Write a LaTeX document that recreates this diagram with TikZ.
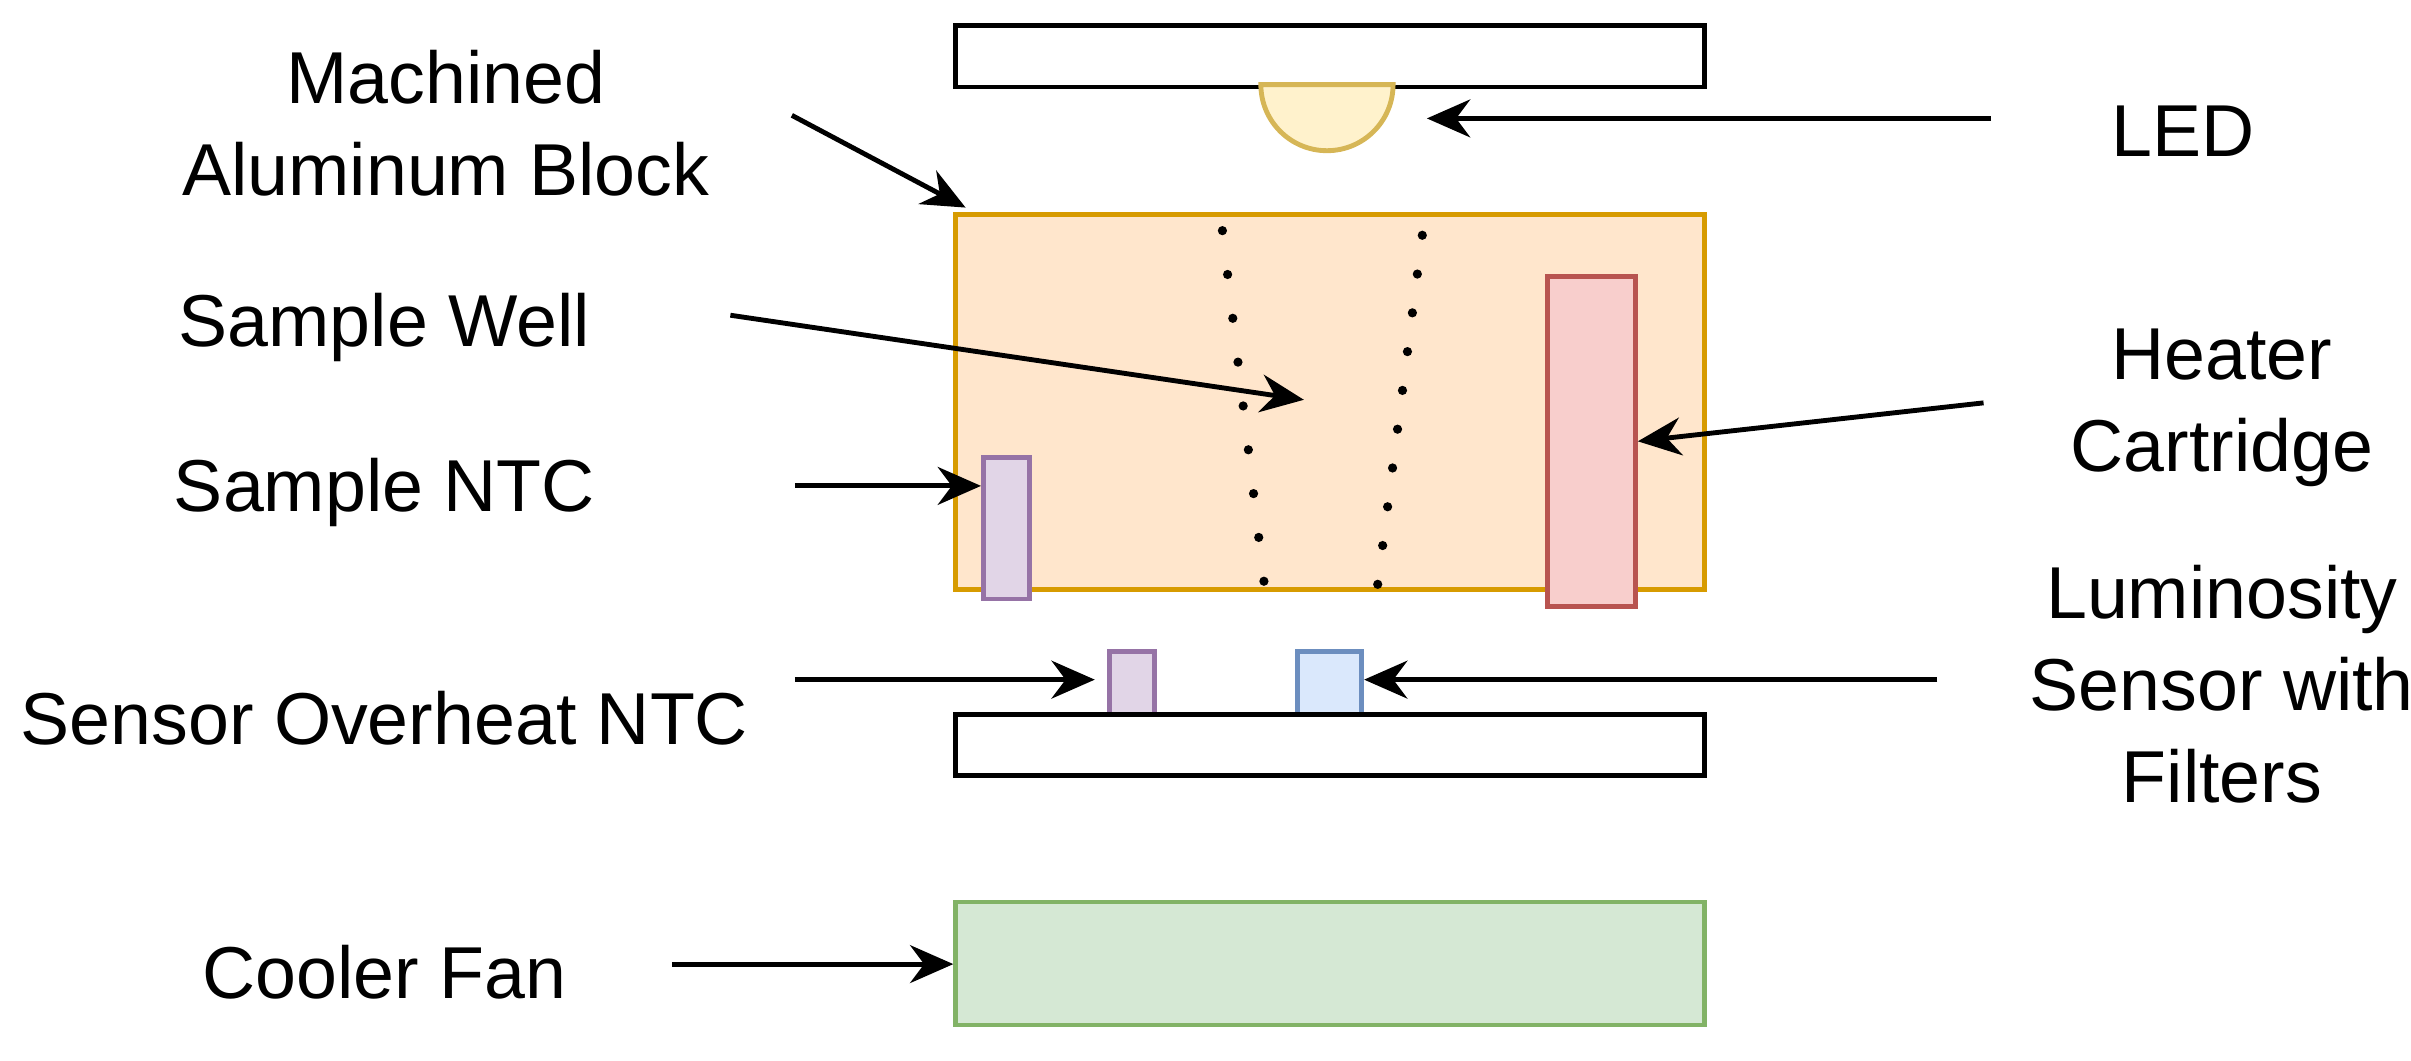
\documentclass[tikz,border=0pt]{standalone}
\usepackage{fontspec}
\setmainfont{Liberation Sans}
\usetikzlibrary{arrows.meta}
\definecolor{ledf}{HTML}{FFF2CC}\definecolor{leds}{HTML}{D6B656}
\definecolor{blkf}{HTML}{FFE6CC}\definecolor{blks}{HTML}{D79B00}
\definecolor{heaf}{HTML}{F8CECC}\definecolor{heas}{HTML}{B85450}
\definecolor{ntcf}{HTML}{E1D5E7}\definecolor{ntcs}{HTML}{9673A6}
\definecolor{lumf}{HTML}{DAE8FC}\definecolor{lums}{HTML}{6C8EBF}
\definecolor{fanf}{HTML}{D5E8D4}\definecolor{fans}{HTML}{82B366}
\begin{document}
\begin{tikzpicture}[x=0.01cm,y=-0.01cm,line width=0.9pt,
  lab/.style={font=\fontsize{13.6}{17}\selectfont,align=center,inner sep=0pt},
  arr/.style={-{Stealth[length=8pt,width=7pt]},line width=0.9pt},
  box/.style={draw,inner sep=0,anchor=north west}]
\useasboundingbox (0,0) rectangle (1568,690);
\node[box,minimum width=487*0.01cm,minimum height=40*0.01cm] (top) at (620,15) {};
\fill[ledf,draw=leds] (820,55) arc[start angle=180,end angle=0,radius=43] -- cycle;
\coordinate (led) at (928,77);
\node[box,draw=blks,fill=blkf,minimum width=487*0.01cm,minimum height=244*0.01cm] (blk) at (620,138) {};
\foreach \i in {0,...,8}{\fill (795+\i*27/8,150+\i*228/8) circle (3);}
\foreach \i in {0,...,9}{\fill (925-\i*29/9,153+\i*227/9) circle (3);}
\node[box,draw=heas,fill=heaf,minimum width=57*0.01cm,minimum height=215*0.01cm] (hea) at (1005,178) {};
\node[box,draw=ntcs,fill=ntcf,minimum width=30*0.01cm,minimum height=92*0.01cm] (sntc) at (638,296) {};
\node[box,draw=ntcs,fill=ntcf,minimum width=29*0.01cm,minimum height=41*0.01cm] (ontc) at (720,422) {};
\node[box,draw=lums,fill=lumf,minimum width=42*0.01cm,minimum height=41*0.01cm] (lum) at (842,422) {};
\node[box,minimum width=487*0.01cm,minimum height=40*0.01cm] (bot) at (620,463) {};
\node[box,draw=fans,fill=fanf,minimum width=487*0.01cm,minimum height=80*0.01cm] (fan) at (620,585) {};
\coordinate (well) at (848,260);
% labels
\node[lab] (tled) at (1420,85) {LED};
\node[lab] (tblk) at (290,80) {Machined\\Aluminum Block};
\node[lab] (twell) at (250,213) {Sample Well};
\node[lab] (thea) at (1445,265) {Heater\\Cartridge};
\node[lab] (tsntc) at (250,320) {Sample NTC};
\node[lab] (tontc) at (250,467) {Sensor Overheat NTC};
\node[lab] (tlum) at (1445,445) {Luminosity\\Sensor with\\Filters};
\node[lab] (tfan) at (250,632) {Cooler Fan};
% arrows
\coordinate (a1) at (1295,77); \draw[arr] (a1) -- (led);
\coordinate (a2) at (515,75); \coordinate (b2) at (628,135); \draw[arr] (a2) -- (b2);
\coordinate (a3) at (475,205); \draw[arr] (a3) -- (well);
\coordinate (a4) at (1290,262); \draw[arr] (a4) -- (hea.east|-0,287);
\coordinate (a5) at (517,316); \draw[arr] (a5) -- (sntc.west|-a5);
\coordinate (a6) at (517,442); \draw[arr] (a6) -- (712,442);
\coordinate (a7) at (1260,442); \draw[arr] (a7) -- (lum.east|-a7);
\coordinate (a8) at (437,627); \draw[arr] (a8) -- (fan.west|-a8);
\end{tikzpicture}
\end{document}
